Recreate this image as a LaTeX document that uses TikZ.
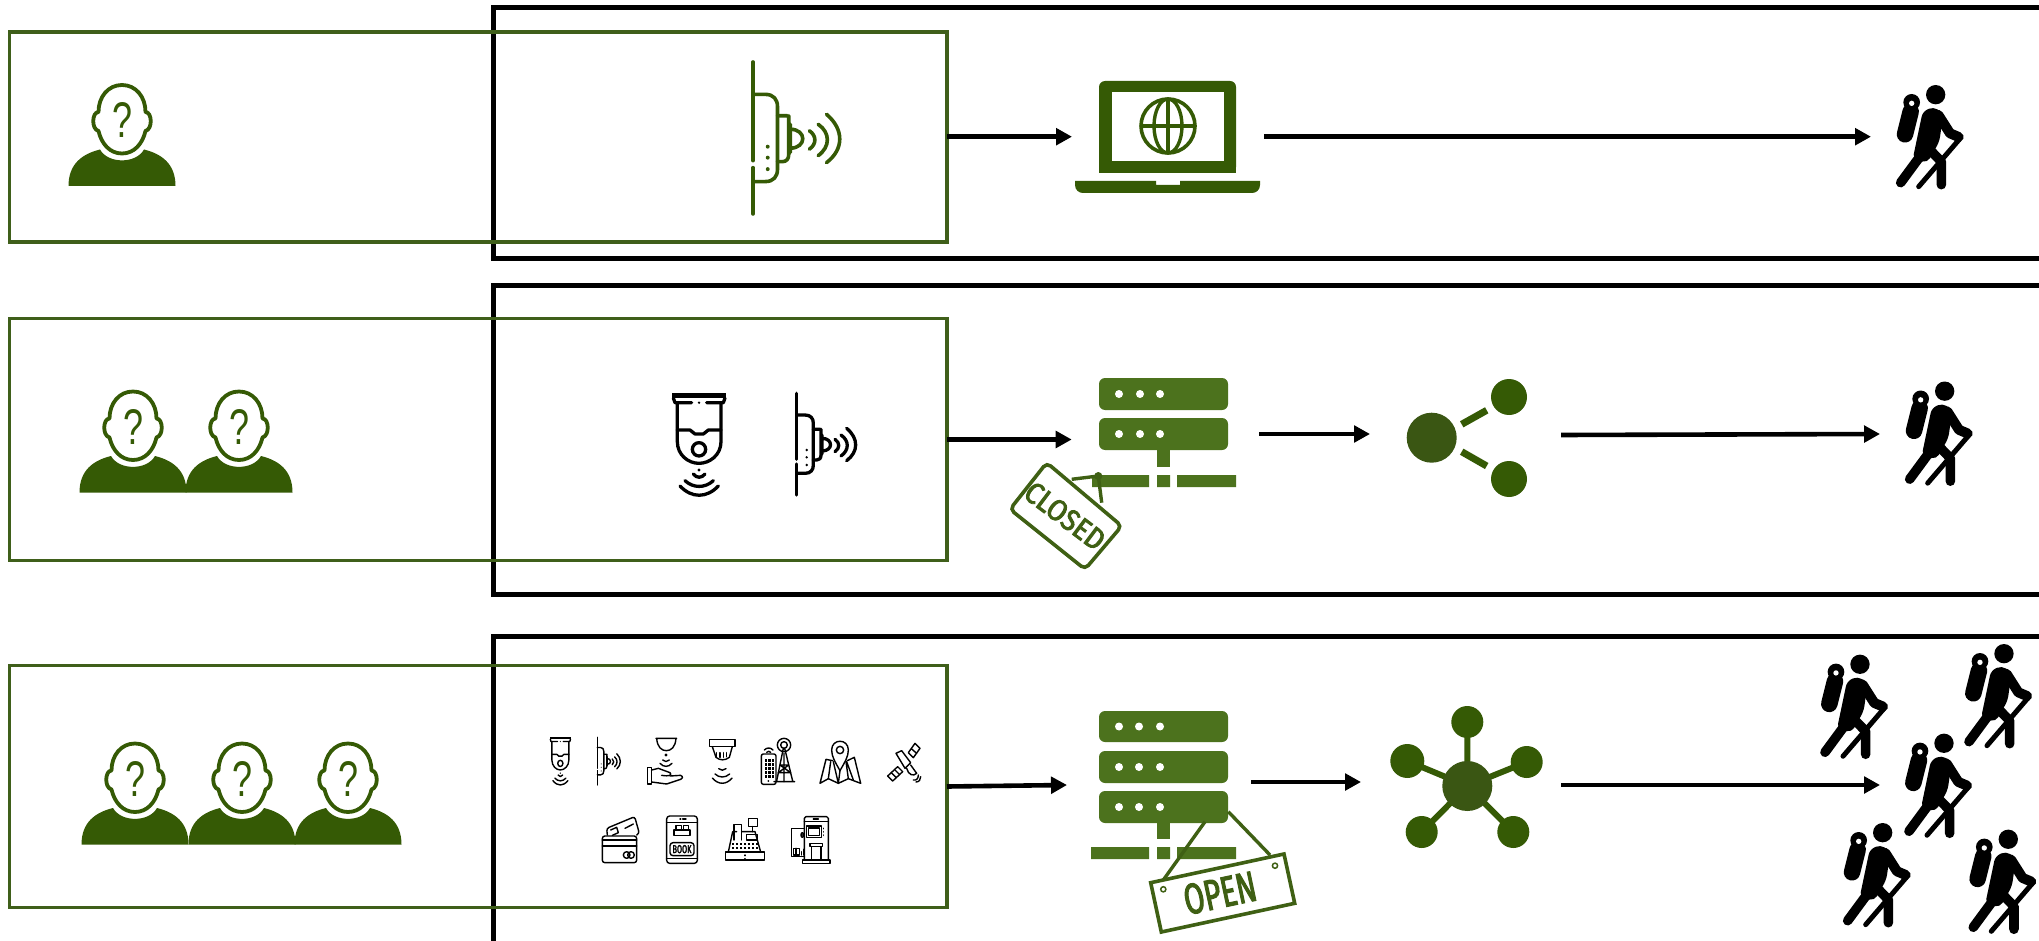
\documentclass[tikz,border=0pt]{standalone}
\usepackage{fontspec}
\usepackage{graphicx}
\usetikzlibrary{arrows.meta}
\setmainfont{Liberation Sans}
\newfontfamily\signfont[FakeStretch=0.72,FakeBold=2.5]{Fira Sans}
\definecolor{frameg}{HTML}{3F5F1A}
\definecolor{persong}{HTML}{355A05}
\definecolor{serverg}{HTML}{4C721D}
\definecolor{hubg}{HTML}{3A5613}
\definecolor{signg}{HTML}{3F6014}
\tikzset{
  blackbox/.style={draw=black,line width=5pt,inner sep=0pt,outer sep=0pt,anchor=north west},
  greenbox/.style={draw=frameg,line width=3.8pt,inner sep=0pt,outer sep=0pt},
  flow/.style={draw=black,line width=4.6pt,-{Triangle[length=16pt,width=16.5pt]}},
  zc/.style={x=0.33333pt,y=-0.33333pt},
  icon/.style={line cap=round,line join=round},
  signtext/.style={text=signg,inner sep=0pt,font=\signfont}
}
% person with a question mark; origin = bottom centre
\newcommand\personicon[2]{%
  \begin{scope}[shift={(#1,#2)}]
    \fill[persong] (-53.5,0) .. controls (-53.5,-22) and (-40,-32) .. (-22,-36.5)
      .. controls (-14,-22) and (14,-22) .. (22,-36.5)
      .. controls (40,-32) and (53.5,-22) .. (53.5,0) -- cycle;
    \draw[persong,line width=3.8pt,line join=round]
      (0,-101) .. controls (-14,-101) and (-23.5,-89) .. (-23.5,-74)
      .. controls (-30,-74) and (-31,-57) .. (-23.5,-55)
      .. controls (-20.5,-42) and (-12,-32.5) .. (0,-32.5)
      .. controls (12,-32.5) and (20.5,-42) .. (23.5,-55)
      .. controls (31,-57) and (30,-74) .. (23.5,-74)
      .. controls (23.5,-89) and (14,-101) .. (0,-101) -- cycle;
    \node[text=persong,inner sep=0pt,font=\fontsize{46}{46}\selectfont] (q) at (0,-66) {\resizebox{20pt}{35pt}{?}};
  \end{scope}}
% wall reader
\newcommand\routericon[1]{%
  \begin{scope}[#1,icon]
    \draw (470,70) -- (470,268) (470,282) -- (470,375);
    \draw (470,135) -- (495,135) .. controls (512,135) and (520,145) .. (520,160) -- (520,285)
       .. controls (520,300) and (512,310) .. (495,310) -- (470,310);
    \draw (520,178) -- (540,178) (543,178) -- (543,255) .. controls (543,265) and (538,270) .. (530,270) -- (520,270);
    \draw (546,195) -- (546,252) (546,205) .. controls (580,205) and (580,243) .. (546,243);
    \draw (585,208) .. controls (600,218) and (600,235) .. (585,245);
    \draw (603,195) .. controls (628,212) and (628,240) .. (603,258);
    \draw (620,175) .. controls (656,205) and (656,245) .. (620,272);
    \fill (500,240) circle[radius=4] (500,262) circle[radius=4] (500,285) circle[radius=4];
  \end{scope}}
% dome camera
\newcommand\camicon[1]{%
  \begin{scope}[#1,icon]
    \fill (97,70) rectangle (257,84);
    \draw (100,84) -- (105,98) -- (155,98) (200,98) -- (250,98) -- (255,84);
    \fill (177,98) circle[radius=4];
    \draw (112,98) -- (112,215) .. controls (112,255) and (145,280) .. (177,280)
       .. controls (209,280) and (243,255) .. (243,215) -- (243,98);
    \draw (112,180) -- (150,180) -- (165,192) -- (190,192) -- (205,180) -- (243,180);
    \draw (177,238) circle[radius=20];
    \fill (177,300) circle[radius=5];
    \draw (160,312) .. controls (170,325) and (185,325) .. (195,312);
    \draw (135,332) .. controls (160,355) and (195,355) .. (220,332);
    \draw (120,348) .. controls (155,385) and (200,385) .. (235,348);
  \end{scope}}
% hiker
\newcommand\hikericon[2]{%
  \begin{scope}[shift={(#1,#2)},zc,line cap=round,line join=round]
    \fill (197,74) circle[radius=29];
    \fill (125,97) circle[radius=25];
    \draw[line width=16.5pt] (122,125) -- (105,193);
    \fill[white] (125,100) circle[radius=8];
    \fill[rounded corners=5pt] (158,125) -- (190,110) -- (220,130) -- (208,215) -- (172,278) -- (128,268) -- cycle;
    \draw[line width=10pt] (205,135) -- (240,190) -- (266,201);
    \draw[line width=9.6pt] (148,262) -- (92,338);
    \draw[line width=9.6pt] (185,245) -- (214,275) -- (214,344);
    \draw[line width=5pt] (268,208) -- (146,350);
  \end{scope}}
\begin{document}
\begin{tikzpicture}[x=1pt,y=-1pt]
\useasboundingbox (0,0) rectangle (2039,941);
\fill[white] (0,0) rectangle (2039,941);
\clip (0,0) rectangle (2039,941);

% black frames (run past the right and bottom edges)
\node[blackbox,minimum width=1700pt,minimum height=251.5pt] (frameA) at (493,7.5) {};
\node[blackbox,minimum width=1700pt,minimum height=308.5pt] (frameB) at (493,285.5) {};
\node[blackbox,minimum width=1700pt,minimum height=400pt] (frameC) at (493,636.5) {};

% green frames
\node[greenbox,minimum width=937.5pt,minimum height=210pt] (rowA) at (478.25,136.7) {};
\node[greenbox,minimum width=937.5pt,minimum height=242pt] (rowB) at (478.25,439.5) {};
\node[greenbox,minimum width=937.5pt,minimum height=242pt] (rowC) at (478.25,786.5) {};

% people
\personicon{122}{186}
\personicon{133}{492.5}
\personicon{239}{492.5}
\personicon{135}{844.5}
\personicon{242}{844.5}
\personicon{348}{844.5}

% large devices
\routericon{shift={(522.7,27.1)},x=0.49pt,y=-0.4983pt,line width=3.6pt,draw=persong,fill=persong,color=persong}
\camicon{shift={(640,370)},zc,line width=3.3pt}
\routericon{shift={(640,370)},zc,line width=3.3pt}

% laptop
\begin{scope}
  \fill[persong,rounded corners=6pt] (1099,173) -- (1099,81) -- (1236,81) -- (1236,173) -- cycle;
  \fill[persong] (1099,165) rectangle (1236,173);
  \fill[white] (1112,92) rectangle (1224,161);
  \fill[persong] (1075,181) -- (1156,181) -- (1156,185) -- (1180,185) -- (1180,181) -- (1260,181)
     -- (1260,185) .. controls (1260,190) and (1256,193) .. (1252,193) -- (1083,193)
     .. controls (1079,193) and (1075,190) .. (1075,185) -- cycle;
  \draw[persong,line width=3.6pt] (1168,126) circle[radius=27];
  \draw[persong,line width=3.4pt] (1168,126) ellipse[x radius=14,y radius=27];
  \draw[persong,line width=3.4pt] (1168,99) -- (1168,153) (1141,126) -- (1195,126);
\end{scope}
\coordinate (laptopIn) at (1072,136.7);
\coordinate (laptopOut) at (1264,136.7);

% closed server
\begin{scope}[yshift=-1pt]
  \fill[serverg,rounded corners=6pt] (1099,377) rectangle (1228,409);
  \fill[serverg,rounded corners=6pt] (1099,417) rectangle (1228,449);
  \fill[serverg] (1157,449) rectangle (1170,466);
  \fill[serverg] (1092,474) rectangle (1149,486) (1157,474) rectangle (1170,486) (1177,474) rectangle (1236,486);
  \fill[white] (1119,393) circle[radius=4] (1140,393) circle[radius=4] (1160,393) circle[radius=4];
  \fill[white] (1119,433) circle[radius=4] (1140,433) circle[radius=4] (1160,433) circle[radius=4];
  \draw[signg,line width=3.4pt,line join=round] (1071.7,478.3) -- (1098.3,475) -- (1101.7,501.7);
  \fill[signg] (1098.3,475) circle[radius=4];
  \draw[signg,fill=white,line width=3.6pt,rounded corners=5pt]
    (1046.7,461.7) -- (1121.7,525) -- (1085,568.3) -- (1010,508.3) -- cycle;
\end{scope}
\node[signtext,rotate=-37] (closedLabel) at (1065,516) {\resizebox{92pt}{21pt}{CLOSED}};
\coordinate (serverBIn) at (1071.7,439.5);
\coordinate (serverBOut) at (1259,434);

% share icon
\begin{scope}[yshift=-1pt]
  \fill[hubg] (1431.7,436.7) circle[radius=25];
  \fill[persong] (1509,396) circle[radius=18] (1509,478) circle[radius=18];
  \draw[persong,line width=7pt] (1461.7,423.3) -- (1486.7,409.3) (1461.7,450.7) -- (1486.7,465);
\end{scope}
\coordinate (shareIn) at (1370,434);
\coordinate (shareOut) at (1561,435);

% open server
\begin{scope}
  \fill[serverg,rounded corners=6pt] (1099,711) rectangle (1228,742);
  \fill[serverg,rounded corners=6pt] (1099,751) rectangle (1228,783);
  \fill[serverg,rounded corners=6pt] (1099,791) rectangle (1228,823);
  \fill[serverg] (1157,823) rectangle (1170,839);
  \fill[serverg] (1091,847) rectangle (1149,859) (1157,847) rectangle (1170,859) (1177,847) rectangle (1236,859);
  \fill[white] (1119,726.5) circle[radius=4] (1139,726.5) circle[radius=4] (1160,726.5) circle[radius=4];
  \fill[white] (1119,767) circle[radius=4] (1139,767) circle[radius=4] (1160,767) circle[radius=4];
  \fill[white] (1119,807) circle[radius=4] (1139,807) circle[radius=4] (1160,807) circle[radius=4];
  \draw[signg,line width=3.4pt] (1163.3,880) -- (1205,821.7) (1270,855) -- (1228.3,811.7);
  \draw[signg,fill=white,line width=3.6pt,line join=miter]
    (1150.7,882.7) -- (1284,854) -- (1294.7,903.3) -- (1161.3,932) -- cycle;
  \draw[signg,line width=1.5pt] (1163.3,889.3) circle[radius=2.6] (1275,865.7) circle[radius=2.6];
\end{scope}
\node[signtext,rotate=12] (openLabel) at (1220,893) {\resizebox{73pt}{30pt}{OPEN}};
\coordinate (serverCIn) at (1067,785);
\coordinate (serverCOut) at (1251,782);

% hub
\begin{scope}[yshift=-1pt]
  \draw[persong,line width=6pt] (1467.3,785) -- (1467.3,721) (1467.3,785) -- (1407.3,760)
     (1467.3,785) -- (1526.7,761) (1467.3,785) -- (1421.7,831) (1467.3,785) -- (1513.3,831);
  \fill[persong] (1467.3,721) circle[radius=16] (1407.3,760) circle[radius=17] (1526.7,761) circle[radius=16]
     (1421.7,831) circle[radius=16] (1513.3,831) circle[radius=16];
  \fill[hubg] (1467.3,785) circle[radius=25];
\end{scope}
\coordinate (hubIn) at (1361,782);
\coordinate (hubOut) at (1561,785);

% hikers
\coordinate (hikerA) at (1871,136.7);
\coordinate (hikerB) at (1880,434);
\coordinate (hikerC) at (1880,785);
\hikericon{1870}{70}
\hikericon{1879}{366.5}
\hikericon{1794.3}{639.6}
\hikericon{1938.3}{629}
\hikericon{1878.3}{718.6}
\hikericon{1817}{808}
\hikericon{1942.6}{814.6}

% small icons row
\camicon{shift={(537.3,726.1)},x=0.13pt,y=-0.1567pt,line width=1.4pt}
\routericon{shift={(536.2,726.4)},x=0.13pt,y=-0.1563pt,line width=1.4pt}
\begin{scope}[shift={(520,720)},zc,line width=1.4pt,icon]
  % hand and sensor
  \draw (408,55) -- (470,55) (410,55) .. controls (412,82) and (425,92) .. (439,92)
     .. controls (453,92) and (466,82) .. (468,55);
  \fill (438,105) circle[radius=5];
  \draw (428,120) .. controls (434,126) and (442,126) .. (448,120);
  \draw (420,130) .. controls (430,142) and (446,142) .. (456,130);
  \draw (382,142) rectangle (395,192);
  \draw (395,150) -- (415,145) -- (450,158) .. controls (456,165) and (450,170) .. (425,166);
  \draw (450,168) -- (482,166) .. controls (490,170) and (488,176) .. (482,178) -- (440,192) -- (395,186);
  % smoke detector
  \draw (568,58) rectangle (645,80);
  \draw (577,80) -- (588,112) .. controls (600,122) and (615,122) .. (628,112) -- (637,80);
  \draw (590,98) -- (590,110) (600,98) -- (600,112) (610,98) -- (610,112) (620,98) -- (620,110);
  \draw (596,146) .. controls (602,152) and (612,152) .. (618,146);
  \draw (585,162) .. controls (598,174) and (616,174) .. (629,162);
  \draw (577,174) .. controls (595,195) and (619,195) .. (636,174);
  % phone and tower
  \draw[rounded corners=2pt] (724,102) rectangle (768,193);
  \foreach \px in {734,745,756} \foreach \py in {118,130,142,154,166}
    \fill (\px,\py) rectangle (\px+7,\py+7);
  \fill (745,183) circle[radius=3];
  \draw (733,90) .. controls (740,82) and (752,82) .. (759,90);
  \draw (740,97) .. controls (744,93) and (748,93) .. (752,97);
  \draw (792,75) circle[radius=20] (792,75) circle[radius=10];
  \draw (790,85) -- (770,183) (794,85) -- (818,183) (762,185) -- (824,185);
  \draw (780,135) -- (806,135) (775,158) -- (812,158) (780,135) -- (812,158) (806,135) -- (775,158) (792,100) -- (792,185);
  % map
  \draw (960,152) .. controls (945,125) and (935,110) .. (935,90) .. controls (935,55) and (985,55) .. (985,90)
     .. controls (985,110) and (975,125) .. (960,152) -- cycle;
  \draw (960,90) circle[radius=11];
  \draw (938,122) -- (918,118) -- (900,190) -- (925,176) -- (955,190) -- (985,176) -- (1022,190) -- (1003,112) -- (982,122);
  \draw (925,176) -- (932,125) (985,176) -- (978,125) (955,190) -- (960,152) (940,125) -- (955,190) (980,125) -- (1000,180);
  % satellite
  \draw (1103,168) -- (1118,183) -- (1148,155) -- (1133,140) -- cycle;
  \draw (1114,158) -- (1129,173) (1125,150) -- (1139,164);
  \draw (1165,98) -- (1180,113) -- (1200,85) -- (1185,70) -- cycle;
  \draw (1175,87) -- (1190,100);
  \draw (1128,100) -- (1145,92) -- (1172,128) -- (1155,145) -- cycle;
  \draw (1160,145) .. controls (1165,165) and (1180,170) .. (1190,160) -- (1172,135);
  \draw (1180,180) .. controls (1190,182) and (1195,175) .. (1195,165);
  \draw (1188,186) .. controls (1198,186) and (1202,178) .. (1202,170);
  % cards
  \draw[rounded corners=2.5pt] (262,345) -- (260,325) -- (344,290) -- (358,340) -- (350,345);
  \draw (272,330) -- (290,322) -- (295,338) -- (277,346);
  \draw (315,325) -- (340,312);
  \draw[rounded corners=2.5pt] (247,348) rectangle (350,428);
  \draw (247,360) -- (350,360) (247,378) -- (350,378);
  \draw (320,405) circle[radius=10] (333,405) circle[radius=10];
  % booking phone
  \draw[rounded corners=3pt] (440,288) rectangle (532,430);
  \draw (440,307) -- (532,307) (440,415) -- (532,415);
  \draw (480,297) -- (482,297) (488,297) -- (498,297);
  \draw (462,347) -- (510,347) -- (510,330) -- (462,330) -- cycle;
  \draw (468,330) -- (468,317) -- (484,317) -- (484,330) (490,330) -- (490,317) -- (505,317) -- (505,330);
  \draw[rounded corners=3pt] (450,368) rectangle (522,407);
  \node[inner sep=0pt,font=\signfont] (bookLabel) at (486,387.5) {\resizebox{19pt}{8pt}{BOOK}};
  % cash register
  \draw (617,396) rectangle (733,420);
  \draw (675,405) -- (675,407) (675,416) -- (675,418);
  \draw (625,396) -- (638,335) -- (650,335) (665,335) -- (705,335) -- (722,396);
  \draw (642,360) -- (642,314) -- (665,314) -- (665,360);
  \draw (685,295) rectangle (713,320) (698,320) -- (698,335);
  \draw (680,343) rectangle (712,360);
  \foreach \px in {636,648,660,672,684,696,708} {
    \fill (\px,368) rectangle (\px+6,374);
    \fill (\px,381) rectangle (\px+6,387);
  }
  % kiosk
  \draw (853,420) -- (853,295) -- (858,290) -- (920,290) -- (925,295) -- (925,420);
  \draw (853,304) -- (925,304);
  \draw (880,297) -- (895,297);
  \draw (860,318) rectangle (905,352) (866,324) rectangle (899,346);
  \draw (911,325) -- (911,326) (911,335) -- (911,336) (911,345) -- (911,346);
  \draw (870,370) rectangle (908,380) (875,380) -- (875,420) (903,380) -- (903,420);
  \draw (848,420) rectangle (930,430);
  \draw (853,325) -- (815,325) -- (815,410) -- (853,410);
  \draw (847,345) ellipse[x radius=4,y radius=7] (843,345) -- (851,345);
  \draw (820,385) rectangle (838,405) (828,385) -- (828,405) (844,405) -- (844,395) (850,405) -- (850,388);
\end{scope}

% connectors
\draw[flow] (rowA.east) -- (laptopIn);
\draw[flow] (laptopOut) -- (hikerA);
\draw[flow] (rowB.east) -- (serverBIn);
\draw[flow] (serverBOut) -- (shareIn);
\draw[flow] (shareOut) -- (hikerB);
\draw[flow] (rowC.east) -- (serverCIn);
\draw[flow] (serverCOut) -- (hubIn);
\draw[flow] (hubOut) -- (hikerC);
\end{tikzpicture}
\end{document}
